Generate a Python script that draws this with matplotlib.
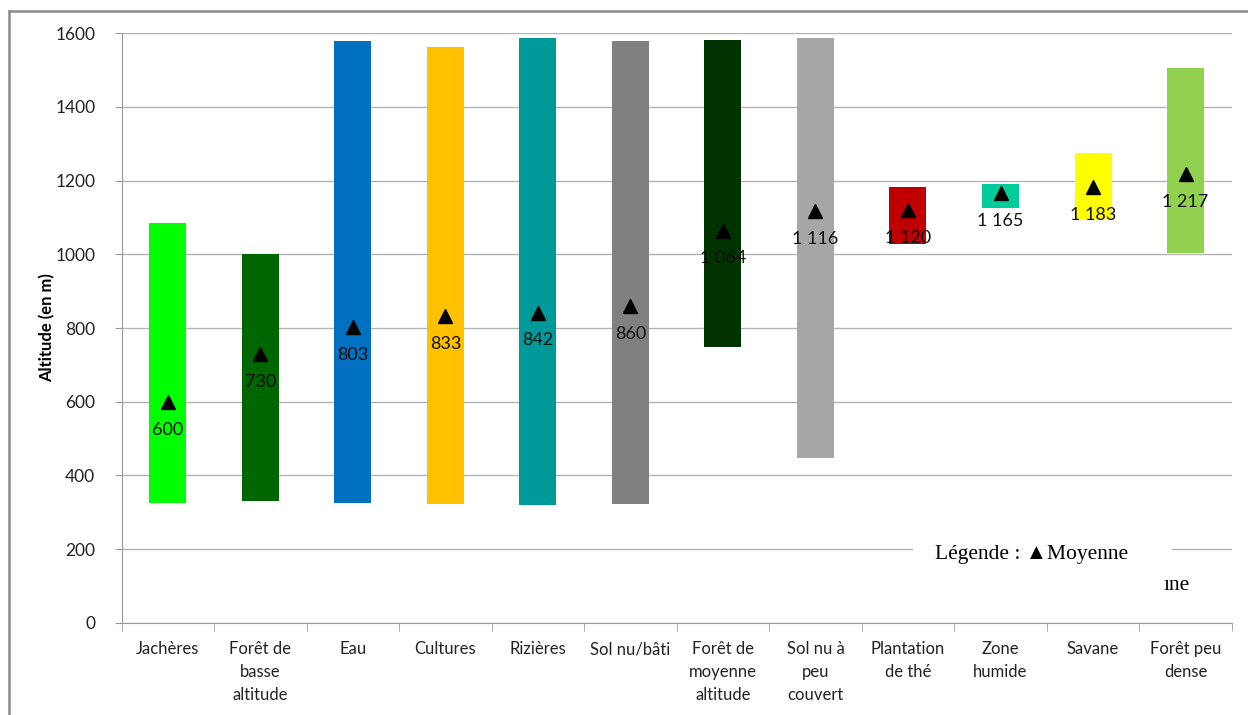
import matplotlib.pyplot as plt
from matplotlib.lines import Line2D
from matplotlib.patches import Rectangle

categories = ['Jachères', 'Forêt de\nbasse\naltitude', 'Eau', 'Cultures', 'Rizières',
              'Sol nu/bâti', 'Forêt de\nmoyenne\naltitude', 'Sol nu à\npeu\ncouvert',
              'Plantation\nde thé', 'Zone\nhumide', 'Savane', 'Forêt peu\ndense']
alt_min = [325, 331, 325, 323, 320, 323, 748, 447, 1028, 1125, 1096, 1003]
alt_max = [1084, 1000, 1578, 1562, 1586, 1578, 1581, 1586, 1182, 1190, 1275, 1505]
alt_mean = [600, 730, 803, 833, 842, 860, 1064, 1116, 1120, 1165, 1183, 1217]
colors = ['#00ff00', '#006600', '#0070c0', '#ffc000', '#009999', '#808080',
          '#003300', '#a6a6a6', '#c00000', '#00cc99', '#ffff00', '#92d050']

plt.rcParams['font.family'] = ['Lato', 'DejaVu Sans']

fig = plt.figure(figsize=(12.48, 7.15), dpi=100)
ax = fig.add_axes([0.0975, 0.1287, 0.8895, 0.8251])

x = list(range(len(categories)))
heights = [hi - lo for lo, hi in zip(alt_min, alt_max)]
ax.bar(x, heights, bottom=alt_min, width=0.4, color=colors, zorder=2)
ax.plot(x, alt_mean, linestyle='none', marker='^', markersize=10, color='black', zorder=3)
for xi, m in zip(x, alt_mean):
    ax.annotate(f"{m:,}".replace(',', ' '), (xi, m), xytext=(0, -20), textcoords='offset points',
                ha='center', va='center', fontsize=13, color='#111111', zorder=4)

ax.set_xlim(-0.5, len(categories) - 0.5)
ax.set_ylim(0, 1600)
ax.set_yticks(range(0, 1601, 200))
ax.yaxis.grid(True, color='#b3b3b3', linewidth=1, zorder=0)
ax.set_axisbelow(True)
ax.set_xticks(x)
ax.set_xticklabels(categories, fontsize=12, linespacing=1.55, color='#222222')
ax.set_xticks([i - 0.5 for i in range(len(categories) + 1)], minor=True)
ax.tick_params(axis='x', which='major', length=0, pad=13)
ax.tick_params(axis='x', which='minor', length=6, color='#999999', direction='out')
ax.tick_params(axis='y', length=5, color='#999999', labelsize=12.5, labelcolor='#222222', pad=14)
for s in ['top', 'right']:
    ax.spines[s].set_visible(False)
for s in ['left', 'bottom']:
    ax.spines[s].set_color('#999999')
ax.set_ylabel('Altitude (en m)', fontsize=12, fontweight='bold', labelpad=0)

# outer frame
fig.add_artist(Line2D([9 / 1248, 9 / 1248], [0, 1 - 11 / 715], color='#8c8c8c', lw=1.8))
fig.add_artist(Line2D([9 / 1248, 1], [1 - 11 / 715, 1 - 11 / 715], color='#8c8c8c', lw=1.8))

# legend box
fig.add_artist(Rectangle((913 / 1248, 1 - 572 / 715), 259 / 1248, 40 / 715,
                         facecolor='white', edgecolor='none', zorder=5))
fig.text(935 / 1248, 1 - 554 / 715, 'Légende : ▲Moyenne', fontsize=15.5,
         family=['Liberation Serif', 'DejaVu Sans'], va='center', ha='left', zorder=6)
fig.text(1164 / 1248, 1 - 585 / 715, 'ıne', fontsize=15.5,
         family=['Liberation Serif', 'DejaVu Sans'], va='center', ha='left', zorder=6)

fig.savefig('out.png', dpi=100)
